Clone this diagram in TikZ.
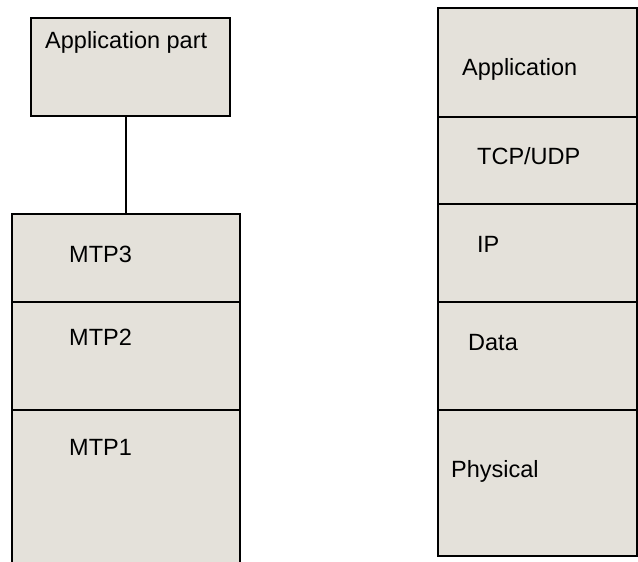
\documentclass[tikz,border=0pt]{standalone}
\usepackage{fontspec}
\setmainfont{Liberation Sans}
\definecolor{boxfill}{HTML}{E4E1DA}
\tikzset{
  layer/.style={draw=black, fill=boxfill, line width=1.6pt, rectangle, inner sep=0pt, outer sep=0pt, anchor=north west},
  openlayer/.style={fill=boxfill, rectangle, inner sep=0pt, outer sep=0pt, anchor=north west},
  edge/.style={draw=black, line width=1.6pt},
  lbl/.style={anchor=base west, inner sep=0pt, font=\fontsize{23.5}{28}\selectfont}
}
\begin{document}
\begin{tikzpicture}[x=1pt,y=-1pt]
\useasboundingbox (0,0) rectangle (638,562);
% left side
\node[layer, minimum width=199pt, minimum height=98pt] (apppart) at (31,18) {};
\node[layer, minimum width=228pt, minimum height=88pt] (mtp3) at (12,214) {};
\node[layer, minimum width=228pt, minimum height=108pt] (mtp2) at (12,302) {};
\node[openlayer, minimum width=228pt, minimum height=160pt] (mtp1) at (12,410) {};
\draw[edge] (mtp1.south west) -- (mtp1.north west) -- (mtp1.north east) -- (mtp1.south east);
\draw[edge] (mtp3.north) -- (mtp3.north |- apppart.south);
\node[lbl] (tapppart) at (45,48) {Application part};
\node[lbl] (tmtp3) at (69,262) {MTP3};
\node[lbl] (tmtp2) at (69,345) {MTP2};
\node[lbl] (tmtp1) at (69,455) {MTP1};
% right side
\node[layer, minimum width=199pt, minimum height=109pt] (appl) at (438,8) {};
\node[layer, minimum width=199pt, minimum height=87pt] (tcp) at (438,117) {};
\node[layer, minimum width=199pt, minimum height=98pt] (ip) at (438,204) {};
\node[layer, minimum width=199pt, minimum height=108pt] (data) at (438,302) {};
\node[layer, minimum width=199pt, minimum height=146pt] (phys) at (438,410) {};
\node[lbl] (tappl) at (462,75) {Application};
\node[lbl] (ttcp) at (477,164) {TCP/UDP};
\node[lbl] (tip) at (477,252) {IP};
\node[lbl] (tdata) at (468,350) {Data};
\node[lbl] (tphys) at (451,477) {Physical};
\end{tikzpicture}
\end{document}
